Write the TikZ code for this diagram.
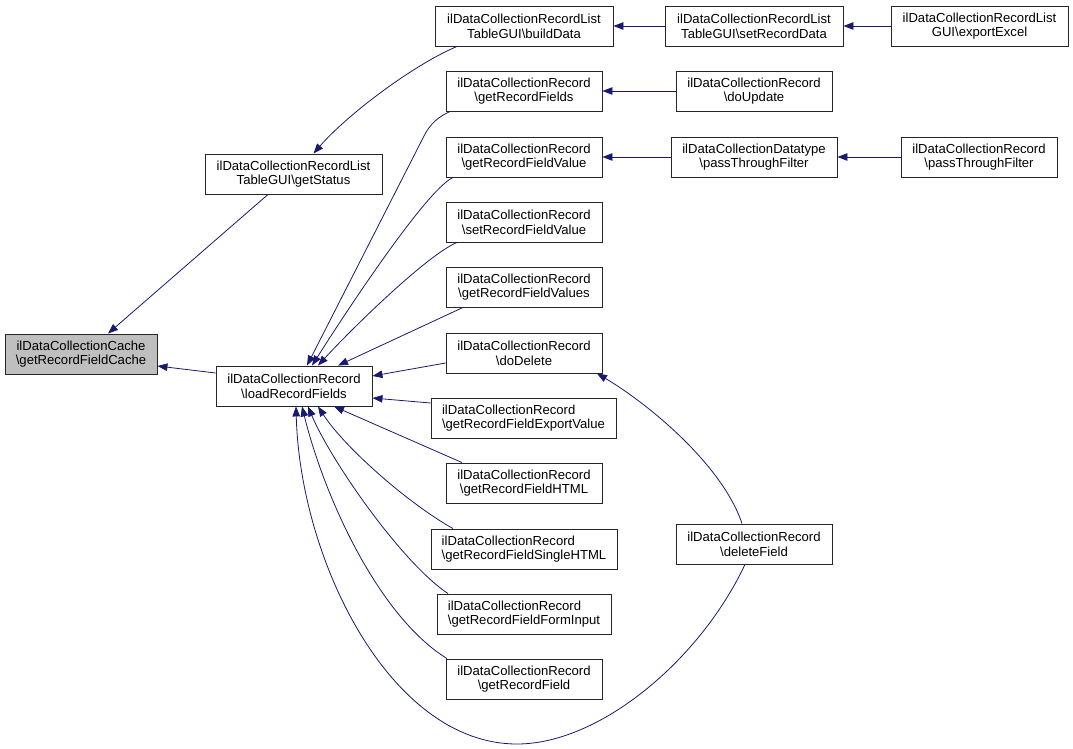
\documentclass[tikz,border=0pt]{standalone}
\usepackage{fontspec}
\setmainfont{Liberation Sans}
\usetikzlibrary{arrows.meta}
\definecolor{navy}{RGB}{25,25,112}
\definecolor{cachegray}{RGB}{191,191,191}
\tikzset{
  fn/.style={draw=black!85, line width=0.9pt, fill=white, inner sep=0pt, minimum height=40pt,
    align=center, font=\fontsize{13.1}{14.7}\selectfont},
  fnl/.style={fn, align=left},
  conn/.style={draw=navy, line width=0.8pt, -{Triangle[length=10pt,width=7.5pt]}},
}
\begin{document}
\begin{tikzpicture}[x={(1pt,0)}, y={(0,-1pt)}]
\useasboundingbox (0,0) rectangle (1073,749);
% nodes
\node[fn, fill=cachegray, minimum width=152pt] (cache) at (81,354) {ilDataCollectionCache\\\textbackslash getRecordFieldCache};
\node[fn, minimum width=177pt] (getstatus) at (293.5,174) {ilDataCollectionRecordList\\TableGUI\textbackslash getStatus};
\node[fn, minimum width=156pt] (load) at (294,386) {ilDataCollectionRecord\\\textbackslash loadRecordFields};
\node[fn, minimum width=178pt] (builddata) at (524,26) {ilDataCollectionRecordList\\TableGUI\textbackslash buildData};
\node[fn, minimum width=156pt] (grfields) at (524,91) {ilDataCollectionRecord\\\textbackslash getRecordFields};
\node[fn, minimum width=156pt] (grfvalue) at (524,157) {ilDataCollectionRecord\\\textbackslash getRecordFieldValue};
\node[fn, minimum width=156pt] (srfvalue) at (524,222) {ilDataCollectionRecord\\\textbackslash setRecordFieldValue};
\node[fn, minimum width=156pt] (grfvalues) at (524,287) {ilDataCollectionRecord\\\textbackslash getRecordFieldValues};
\node[fn, minimum width=156pt] (dodelete) at (524,353) {ilDataCollectionRecord\\\textbackslash doDelete};
\node[fnl, minimum width=185pt] (exportvalue) at (523.5,418) {ilDataCollectionRecord\\\textbackslash getRecordFieldExportValue};
\node[fn, minimum width=156pt] (html) at (524,483) {ilDataCollectionRecord\\\textbackslash getRecordFieldHTML};
\node[fnl, minimum width=186pt] (singlehtml) at (524,549) {ilDataCollectionRecord\\\textbackslash getRecordFieldSingleHTML};
\node[fnl, minimum width=174pt] (forminput) at (524,614) {ilDataCollectionRecord\\\textbackslash getRecordFieldFormInput};
\node[fn, minimum width=156pt] (getrecordfield) at (524,679) {ilDataCollectionRecord\\\textbackslash getRecordField};
\node[fn, minimum width=178pt] (setrecord) at (754,26) {ilDataCollectionRecordList\\TableGUI\textbackslash setRecordData};
\node[fn, minimum width=177pt] (exportexcel) at (979.5,26) {ilDataCollectionRecordList\\GUI\textbackslash exportExcel};
\node[fn, minimum width=156pt] (doupdate) at (754,91) {ilDataCollectionRecord\\\textbackslash doUpdate};
\node[fn, minimum width=166pt] (dtpass) at (754,157) {ilDataCollectionDatatype\\\textbackslash passThroughFilter};
\node[fn, minimum width=156pt] (recpass) at (979,157) {ilDataCollectionRecord\\\textbackslash passThroughFilter};
\node[fn, minimum width=156pt] (deletefield) at (754,544) {ilDataCollectionRecord\\\textbackslash deleteField};
% connectors
\draw[conn] ([xshift=-25.5pt]getstatus.south) -- ([xshift=27pt]cache.north);
\draw[conn] ([yshift=13pt]load.west) -- ([yshift=-12pt]cache.east);
\draw[conn] ([xshift=-67pt]builddata.south) .. controls (411,66) and (346,116) .. ([xshift=20pt]getstatus.north);
\draw[conn] (setrecord.west) -- (builddata.east);
\draw[conn] (exportexcel.west) -- (setrecord.east);
\draw[conn] ([xshift=-74pt]grfields.south) .. controls (438,117) and (430,124) .. (424,136) -- ([xshift=13pt]load.north);
\draw[conn] ([xshift=-71pt]grfvalue.south) .. controls (426,190) and (344,315) .. ([xshift=18pt]load.north);
\draw[conn] ([xshift=-67pt]srfvalue.south) .. controls (427,255) and (351.5,329) .. ([xshift=24pt]load.north);
\draw[conn] ([xshift=-61pt]grfvalues.south) -- ([xshift=44pt]load.north);
\draw[conn] ([yshift=-10pt]dodelete.west) -- ([yshift=10pt]load.east);
\draw[conn] ([yshift=15pt]exportvalue.west) -- ([yshift=-12pt]load.east);
\draw[conn] ([xshift=-62pt]html.north) -- ([xshift=40pt]load.south);
\draw[conn] ([xshift=-71pt]singlehtml.north) .. controls (409,504) and (345,448) .. ([xshift=24pt]load.south);
\draw[conn] ([xshift=-76pt]forminput.north) .. controls (402,563) and (331,461) .. ([xshift=14pt]load.south);
\draw[conn] ([xshift=-77pt]getrecordfield.north) .. controls (378,616) and (324,496) .. ([xshift=8pt]load.south);
\draw[conn] ([xshift=-9pt]deletefield.south) .. controls (700,660) and (600,744) .. (517,744)
  .. controls (390,744) and (300,560) .. ([xshift=2pt]load.south);
\draw[conn] ([xshift=-12pt]deletefield.north) .. controls (722,464) and (647,403) .. ([xshift=73pt]dodelete.south);
\draw[conn] (doupdate.west) -- (grfields.east);
\draw[conn] (dtpass.west) -- (grfvalue.east);
\draw[conn] (recpass.west) -- (dtpass.east);
\end{tikzpicture}
\end{document}
